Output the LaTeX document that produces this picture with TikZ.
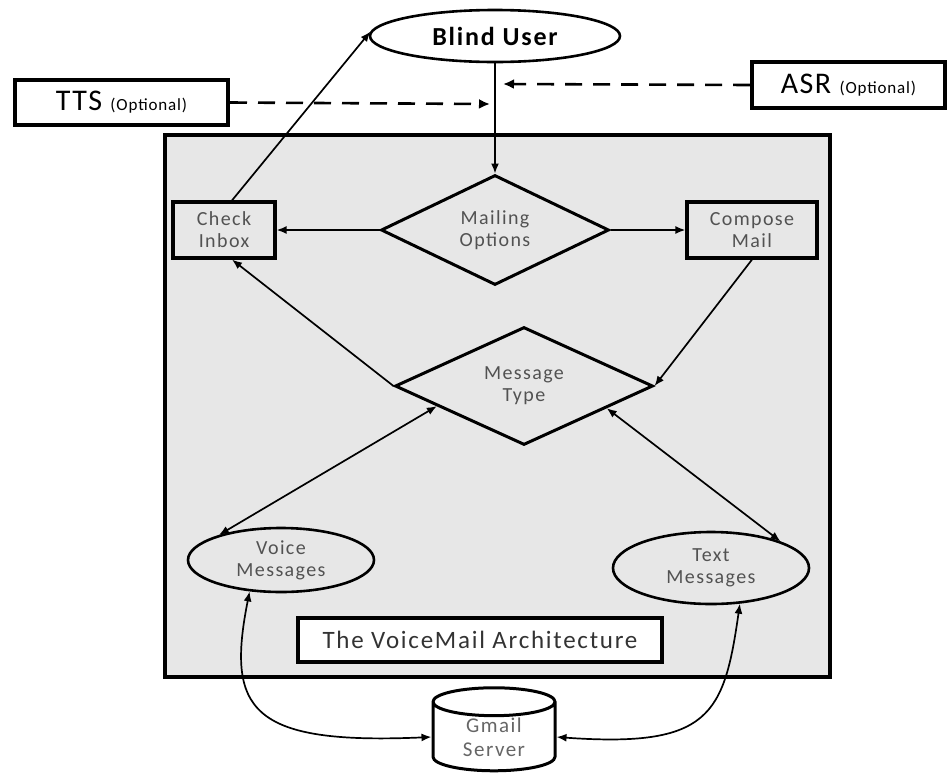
\documentclass[tikz,border=0pt]{standalone}
\usepackage{fontspec}
\setmainfont{Carlito}
\newfontfamily\widefont[LetterSpace=7]{Carlito}
\newfontfamily\optfont[LetterSpace=5]{Carlito}
\usetikzlibrary{shapes.geometric,arrows.meta}
\begin{document}
\begin{tikzpicture}[x=1pt,y=-1pt,
  tip/.style={-{Latex[length=10pt,width=8pt]}},
  conn/.style={line width=1.7pt,tip},
  bidir/.style={line width=1.7pt,{Latex[length=10pt,width=8pt]}-{Latex[length=10pt,width=8pt]}},
  dasharrow/.style={line width=2.6pt,dash pattern=on 17pt off 11pt,-{Latex[length=11pt,width=10pt]}},
  optbox/.style={draw,line width=4pt,fill=white,inner sep=0pt},
  innerbox/.style={draw,line width=3.2pt,fill=gray!19,inner sep=0pt,text=black!68,font=\widefont\fontsize{20}{22}\selectfont,align=center},
  dia/.style={draw,diamond,line width=3pt,inner sep=0pt,text=black!68,font=\widefont\fontsize{20}{22}\selectfont,align=center},
  ell/.style={draw,ellipse,line width=2.6pt,inner sep=0pt,text=black!68,font=\widefont\fontsize{20}{22}\selectfont,align=center}
]
\useasboundingbox (0,0) rectangle (951,780);
\fill[white] (0,0) rectangle (951,780);
% main gray area
\node[draw,line width=3.6pt,fill=gray!19,minimum width=665pt,minimum height=542pt,inner sep=0pt] (main) at (497.5,406) {};
% Blind user
\node[draw,ellipse,line width=2.6pt,minimum width=250pt,minimum height=52pt,fill=white,inner sep=0pt,font=\widefont\bfseries\fontsize{26}{28}\selectfont] (user) at (495,36) {Blind User};
% TTS / ASR
\node[optbox,minimum width=213pt,minimum height=45pt] (tts) at (121.5,102.5) {\optfont\fontsize{30}{32}\selectfont TTS \fontsize{17}{19}\selectfont(Optional)};
\node[optbox,minimum width=193pt,minimum height=46pt] (asr) at (848.5,85) {\optfont\fontsize{30}{32}\selectfont ASR \fontsize{17}{19}\selectfont(Optional)};
% diamonds
\node[dia,minimum width=228pt,minimum height=110pt] (mail) at (495,230) {Mailing\\Options};
\node[dia,minimum width=258pt,minimum height=112pt] (mtype) at (524,386) {Message\\Type};
% boxes
\node[innerbox,minimum width=102pt,minimum height=56pt] (check) at (224,230) {Check\\Inbox};
\node[innerbox,minimum width=130pt,minimum height=56pt] (compose) at (752,230) {Compose\\Mail};
% ellipses
\node[ell,minimum width=186pt,minimum height=64pt] (voice) at (281,560) {Voice\\Messages};
\node[ell,minimum width=196pt,minimum height=72pt] (text) at (711,568) {Text\\Messages};
% label
\node[draw,line width=3.6pt,fill=white,minimum width=364pt,minimum height=44pt,inner sep=0pt,font=\widefont\fontsize{25}{27}\selectfont,text=black!80] (label) at (480,640) {The VoiceMail Architecture};
% gmail
\node[draw,cylinder,shape border rotate=90,aspect=0.45,line width=3pt,fill=white,minimum width=122pt,minimum height=83pt,inner sep=0pt,align=center,text=black!60,font=\widefont\fontsize{21}{24}\selectfont] (gmail) at (494,737) {Gmail\\Server};
% connectors
\coordinate (jtts) at (490,104);
\coordinate (jasr) at (503,84);
\draw[conn] (user.south) -- (mail.north);
\draw[dasharrow] (tts.east) -- (jtts);
\draw[dasharrow] (asr.west) -- (jasr);
\draw[conn] (mail.west) -- (check.east);
\draw[conn] (mail.east) -- (compose.west);
\draw[conn] ([xshift=8pt]check.north) -- (user.178);
\draw[conn] (mtype.west) -- ([xshift=8pt]check.south);
\draw[conn] (compose.south) -- (mtype.east);
\draw[bidir] (voice.158) -- (mtype.193);
\draw[bidir] (mtype.-15) -- (text.21);
\draw[bidir] (voice.-135) .. controls (226,710) and (250,745) .. (gmail.west);
\draw[bidir] (text.-51) .. controls (724,715) and (710,748) .. (gmail.east);
\end{tikzpicture}
\end{document}
